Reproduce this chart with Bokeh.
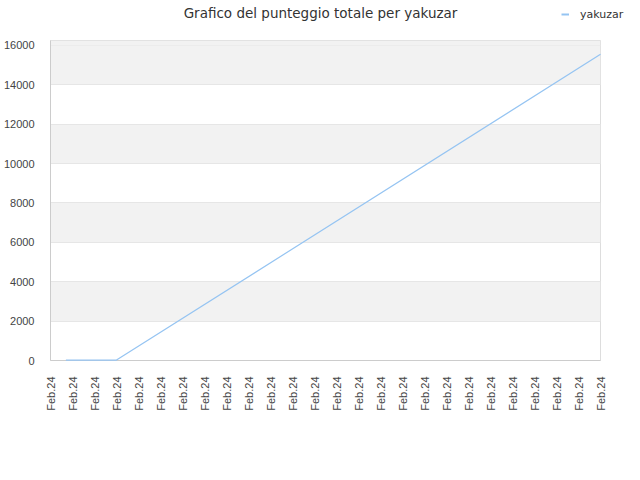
import math
from bokeh.plotting import figure
from bokeh.layouts import column
from bokeh.models import FixedTicker, Legend, LegendItem, Range1d, BoxAnnotation, Label
from bokeh.embed import file_html
from bokeh.resources import INLINE

# ---- data ----
title_text = "Grafico del punteggio totale per yakuzar"
x_categories = ["Feb.24"] * 26
series_name = "yakuzar"
point_pos = [0.7, 1.5, 2.3, 3.0, 25.0]
point_score = [20, 20, 20, 20, 15550]
y_ticks = [0, 2000, 4000, 6000, 8000, 10000, 12000, 14000, 16000]

SERIES_COLOR = "#95c4f2"
W, HEAD_H, MAIN_H = 640, 40, 440

# ---- header: title + legend ----
head = figure(width=W, height=HEAD_H, output_backend="svg", toolbar_location=None,
              title=None,
              x_range=Range1d(0, W), y_range=Range1d(0, HEAD_H),
              x_axis_type=None, y_axis_type=None,
              min_border_left=0, min_border_right=0, min_border_top=0, min_border_bottom=0)
head.frame_align = False
head.outline_line_color = None
head.grid.grid_line_color = None
head.background_fill_color = "white"
head.border_fill_color = "white"
head.add_layout(Label(x=W / 2, y=HEAD_H - 12, text=title_text, text_align="center",
                      text_baseline="middle", text_font="DejaVu Sans",
                      text_font_size="13.5px", text_color="#333333"))
dummy = head.line([0], [0], line_color=SERIES_COLOR, line_width=2)
legend = Legend(items=[LegendItem(label=series_name, renderers=[dummy])],
                location="top_right", orientation="horizontal")
legend.label_text_font = "DejaVu Sans"
legend.label_text_font_size = "11px"
legend.label_text_color = "#333333"
legend.border_line_color = None
legend.background_fill_alpha = 0
legend.glyph_width = 8
legend.glyph_height = 14
legend.label_height = 14
legend.label_width = 53
legend.label_standoff = 11
legend.padding = 0
legend.margin = 7
head.add_layout(legend)

# ---- main chart ----
p = figure(width=W, height=MAIN_H, output_backend="svg", toolbar_location=None,
           title=None,
           x_range=Range1d(0, len(x_categories) - 1), y_range=Range1d(0, 16250),
           min_border_left=50, min_border_right=W - 600,
           min_border_top=0, min_border_bottom=120)
p.frame_align = False
p.outline_line_color = "#dddddd"
p.background_fill_color = "white"
p.border_fill_color = "white"

p.xaxis.ticker = FixedTicker(ticks=list(range(len(x_categories))))
p.xaxis.major_label_overrides = {i: lab for i, lab in enumerate(x_categories)}
p.xaxis.major_label_orientation = math.pi / 2
p.xaxis.major_label_text_font = "Liberation Sans"
p.xaxis.major_label_text_font_size = "11px"
p.xaxis.major_label_text_color = "#444444"
p.xaxis.axis_line_color = "#cccccc"
p.xaxis.major_tick_line_color = None
p.xaxis.minor_tick_line_color = None
p.xaxis.major_label_standoff = 10

p.yaxis.ticker = FixedTicker(ticks=y_ticks)
p.yaxis.major_label_text_font = "Liberation Sans"
p.yaxis.major_label_text_font_size = "11px"
p.yaxis.major_label_text_color = "#444444"
p.yaxis.axis_line_color = "#cccccc"
p.yaxis.major_tick_line_color = None
p.yaxis.minor_tick_line_color = None
p.yaxis.major_label_standoff = 10

p.xgrid.grid_line_color = None
p.ygrid.grid_line_color = "#e6e6e6"
p.ygrid.band_fill_color = "#f2f2f2"
p.ygrid.band_fill_alpha = 1.0
p.add_layout(BoxAnnotation(bottom=y_ticks[-1], fill_color="#f2f2f2", fill_alpha=1.0,
                           line_color=None, level="underlay"))

r = p.line(point_pos, point_score, line_color=SERIES_COLOR, line_width=1.2)
r.level = "overlay"

layout = column(head, p, spacing=0)
open("out.html", "w").write(file_html(layout, INLINE))
